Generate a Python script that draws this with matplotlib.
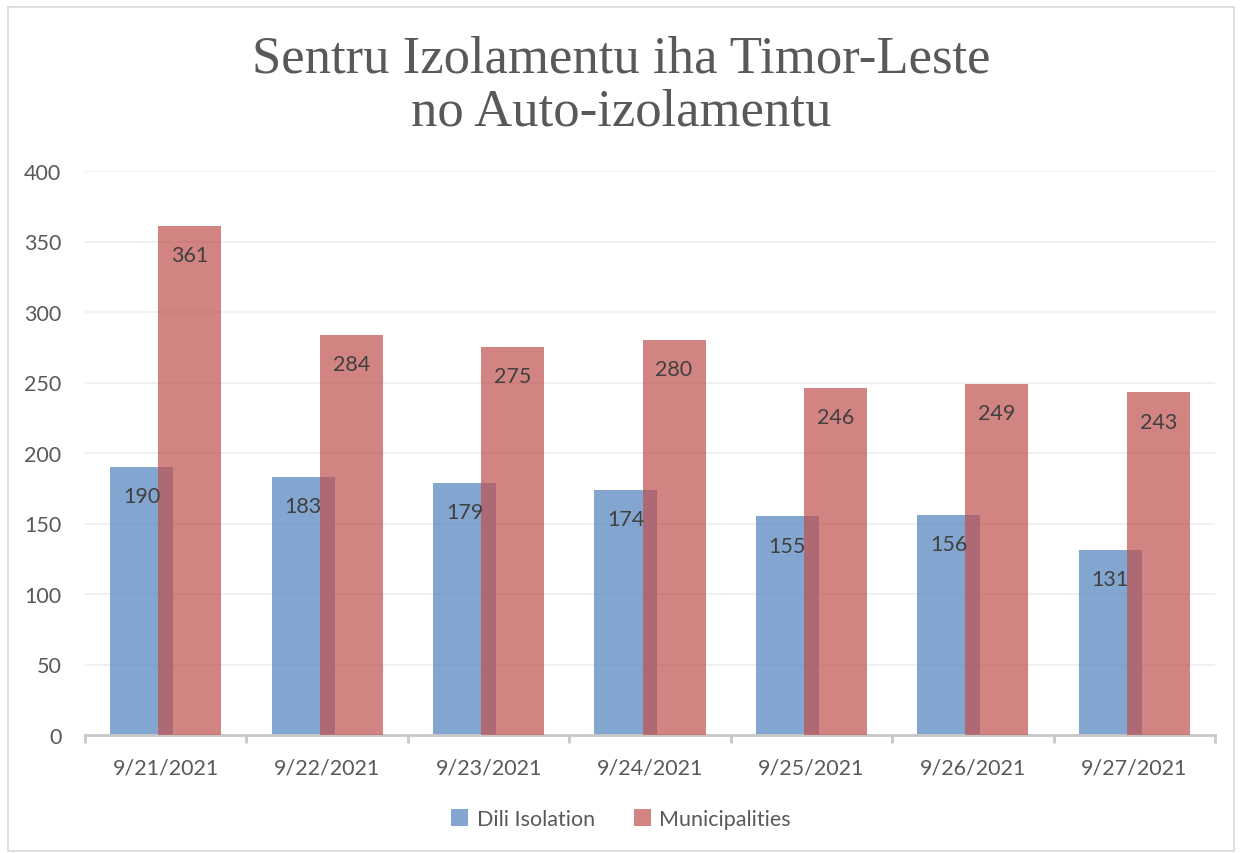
import matplotlib
matplotlib.use("Agg")
import matplotlib.pyplot as plt
import numpy as np
from matplotlib.patches import Rectangle

dates = ["9/21/2021", "9/22/2021", "9/23/2021", "9/24/2021", "9/25/2021", "9/26/2021", "9/27/2021"]
dili = [190, 183, 179, 174, 155, 156, 131]
municipalities = [361, 284, 275, 280, 246, 249, 243]
title = "Sentru Izolamentu iha Timor-Leste\nno Auto-izolamentu"

blue = "#4F81BD"
red = "#C0504D"
txt = "#595959"
font = "Lato"

fig = plt.figure(figsize=(12.42, 8.54), dpi=100)
ax = fig.add_axes([85/1242, 1-736/854, (1215-85)/1242, (736-172)/854])

x = np.arange(len(dates))
w = 0.39
off = 0.149
b1 = ax.bar(x - off, dili, w, color=blue, alpha=0.7, zorder=2, label="Dili Isolation")
b2 = ax.bar(x + off, municipalities, w, color=red, alpha=0.7, zorder=3, label="Municipalities")

for bars, vals in ((b1, dili), (b2, municipalities)):
    for r, v in zip(bars, vals):
        ax.annotate(str(v), (r.get_x() + r.get_width()/2, v), xytext=(0, -21),
                    textcoords="offset points", ha="center", va="center",
                    fontsize=15.5, color="#404040", family=font, zorder=5)

ax.set_xlim(-0.5, len(dates) - 0.5)
ax.set_ylim(0, 400)
ax.set_yticks(range(0, 401, 50))
ax.yaxis.grid(True, color="#EDEDED", linewidth=1.2, zorder=0)
ax.set_axisbelow(True)
for s in ("top", "right", "left"):
    ax.spines[s].set_visible(False)
ax.spines["bottom"].set_color("#C8C8C8")
ax.spines["bottom"].set_linewidth(2)
ax.set_xticks(x)
ax.set_xticklabels(dates)
ax.set_xticks(np.arange(-0.5, len(dates)), minor=True)
ax.tick_params(axis="x", which="major", length=0, pad=16, labelsize=15.5, labelcolor=txt)
ax.tick_params(axis="x", which="minor", length=6, width=2, color="#C8C8C8", direction="out")
ax.tick_params(axis="y", length=0, pad=17, labelsize=15.5, labelcolor=txt)
for lab in ax.get_xticklabels() + ax.get_yticklabels():
    lab.set_family(font)

fig.text(0.5, 1-86/854, title, ha="center", va="center", fontsize=38,
         family="Liberation Serif", color=txt, linespacing=1.12)

leg = fig.legend(handles=[b1, b2], loc="center", bbox_to_anchor=(0.5, 1-820/854),
                 ncol=2, frameon=False, fontsize=15.5, handlelength=0.8, handleheight=0.8,
                 columnspacing=1.8, handletextpad=0.4)
for t in leg.get_texts():
    t.set_color(txt)
    t.set_family(font)

fig.patches.append(Rectangle((8/1242, 0.002), 1 - 16/1242, 1 - 10/854, transform=fig.transFigure,
                             fill=False, edgecolor="#D9D9D9", linewidth=1.2))

fig.savefig("out.png", dpi=100)
